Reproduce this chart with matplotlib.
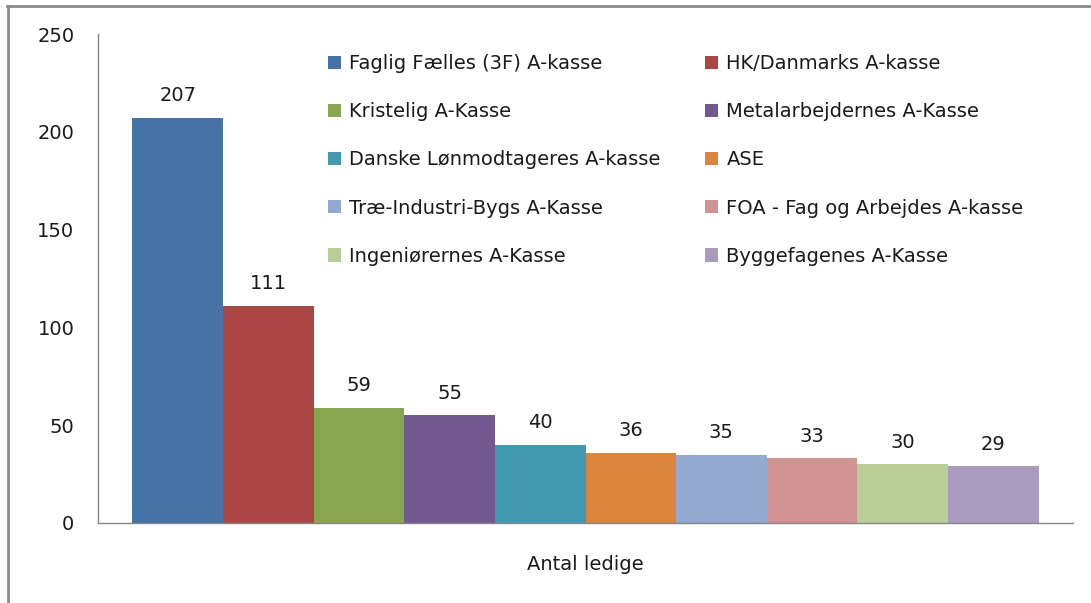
import matplotlib
matplotlib.use("Agg")
import matplotlib.pyplot as plt
from matplotlib.lines import Line2D
from matplotlib.patches import Patch

categories = ["Faglig Fælles (3F) A-kasse", "HK/Danmarks A-kasse", "Kristelig A-Kasse",
              "Metalarbejdernes A-Kasse", "Danske Lønmodtageres A-kasse", "ASE",
              "Træ-Industri-Bygs A-Kasse", "FOA - Fag og Arbejdes A-kasse",
              "Ingeniørernes A-Kasse", "Byggefagenes A-Kasse"]
values = [207, 111, 59, 55, 40, 36, 35, 33, 30, 29]
colors = ["#4572A7", "#AA4643", "#89A54E", "#71588F", "#4198AF",
          "#DB843D", "#93A9CF", "#D19392", "#B9CD96", "#A99BBD"]
yticks = [0, 50, 100, 150, 200, 250]
xlabel = "Antal ledige"

plt.rcParams['font.family'] = ['DejaVu Sans']
TXT = '#1a1a1a'

W, H = 1091, 603
fig = plt.figure(figsize=(W / 100, H / 100), dpi=100)
ax = fig.add_axes([98 / W, 1 - 523 / H, (1073 - 98) / W, (523 - 34) / H])

n = len(values)
bw = 1.0
gap = 0.76
positions = [gap / 2 + bw / 2 + i * bw for i in range(n)]
for p, v, c, lab in zip(positions, values, colors, categories):
    ax.bar(p, v, width=bw, color=c, label=lab, edgecolor='none')
    ax.annotate(str(v), (p, v), xytext=(0, 16), textcoords='offset points',
                ha='center', va='center', fontsize=14, color=TXT)

ax.set_xlim(0, n * bw + gap)
ax.set_ylim(0, 250)
ax.set_yticks(yticks)
ax.set_yticklabels([str(t) for t in yticks], fontsize=14)
ax.set_xticks([])
ax.tick_params(axis='y', length=0, pad=17, colors=TXT)
for s in ['top', 'right']:
    ax.spines[s].set_visible(False)
for s in ['left', 'bottom']:
    ax.spines[s].set_color('#868686')
    ax.spines[s].set_linewidth(1.0)

fig.text((98 + 1073) / 2 / W, 1 - 565 / H, xlabel, ha='center', va='center',
         fontsize=14, color=TXT)

# Legend: two columns, each its own legend placed at exact pixel positions
handles = [Patch(facecolor=c, edgecolor='none') for c in colors]
col_x = [328, 705]
for ci in range(2):
    idx = [ci + 2 * r for r in range(5)]
    leg = fig.legend([handles[i] for i in idx], [categories[i] for i in idx],
                     loc='upper left', bbox_to_anchor=(col_x[ci] / W, 1 - 54 / H),
                     frameon=False, fontsize=14, handlelength=0.68, handleheight=0.68,
                     handletextpad=0.42, labelspacing=1.5,
                     borderaxespad=0, borderpad=0)
    for t in leg.get_texts():
        t.set_color(TXT)

# Outer chart border (partially cropped)
fig.add_artist(Line2D([7 / W, 1], [1 - 5.5 / H, 1 - 5.5 / H], color='#8c8c8c', lw=2, transform=fig.transFigure))
fig.add_artist(Line2D([7.5 / W, 7.5 / W], [0, 1 - 5.5 / H], color='#8c8c8c', lw=2, transform=fig.transFigure))

fig.savefig("out.png", dpi=100)
